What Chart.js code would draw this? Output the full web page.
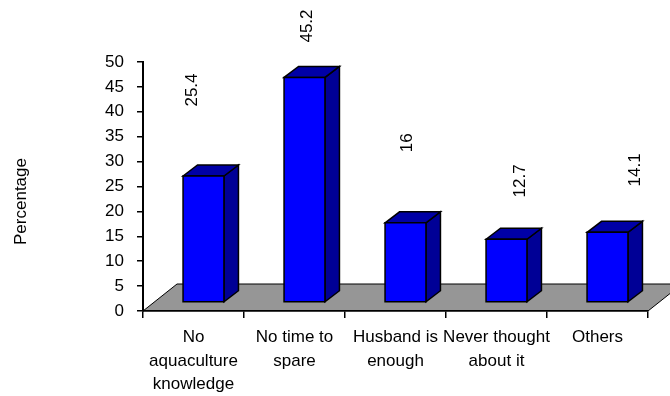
<!DOCTYPE html>
<html>
<head>
<meta charset="utf-8">
<title>Reasons for not taking part in aquaculture</title>
<script src="https://cdn.jsdelivr.net/npm/chart.js@4/dist/chart.umd.min.js"></script>
<style>
  html, body { margin: 0; padding: 0; background: #ffffff; }
  #wrap { width: 670px; height: 396px; }
</style>
</head>
<body>
<div id="wrap"><canvas id="chart" width="670" height="396"></canvas></div>
<script>
// Reasons given and the share of respondents (%) for each
const categories = [
  ['No', 'aquaculture', 'knowledge'],
  ['No time to', 'spare'],
  ['Husband is', 'enough'],
  ['Never thought', 'about it'],
  'Others'
];
const percentages = [25.4, 45.2, 16, 12.7, 14.1];
const axisMin = 0;
const axisMax = 50;
const axisStep = 5;
const axisTitle = 'Percentage';

const FONT = '"Liberation Sans", Arial, Helvetica, sans-serif';

// Draws the grey floor, the boxed 3-D columns and their rotated value labels
const columns3d = {
  id: 'columns3d',
  beforeDraw(chart, args, opts) {
    const { ctx, chartArea: a } = chart;
    const y0 = chart.scales.y.getPixelForValue(0);
    const [dx, dy] = opts.floorDepth;
    ctx.save();
    ctx.beginPath();
    ctx.moveTo(a.left, y0);
    ctx.lineTo(a.right, y0);
    ctx.lineTo(a.right + dx, y0 + dy);
    ctx.lineTo(a.left + dx, y0 + dy);
    ctx.closePath();
    ctx.fillStyle = opts.floorColor;
    ctx.fill();
    ctx.lineWidth = 1;
    ctx.strokeStyle = '#000';
    ctx.stroke();
    ctx.restore();
  },
  afterDatasetsDraw(chart, args, opts) {
    const { ctx } = chart;
    const meta = chart.getDatasetMeta(0);
    const values = chart.data.datasets[0].data;
    const [ox, oy] = opts.frontOffset;
    const [bx, by] = opts.boxDepth;
    ctx.save();
    ctx.lineJoin = 'miter';
    ctx.lineWidth = opts.edgeWidth;
    ctx.strokeStyle = '#000';
    meta.data.forEach((bar, i) => {
      const p = bar.getProps(['x', 'y', 'base', 'width'], true);
      const l = p.x - p.width / 2 + ox;
      const r = l + p.width;
      const t = p.y + oy;
      const b = p.base + oy;

      // side face
      ctx.beginPath();
      ctx.moveTo(r, t);
      ctx.lineTo(r + bx, t + by);
      ctx.lineTo(r + bx, b + by);
      ctx.lineTo(r, b);
      ctx.closePath();
      ctx.fillStyle = opts.sideColor;
      ctx.fill();
      ctx.stroke();

      // top face
      ctx.beginPath();
      ctx.moveTo(l, t);
      ctx.lineTo(l + bx, t + by);
      ctx.lineTo(r + bx, t + by);
      ctx.lineTo(r, t);
      ctx.closePath();
      ctx.fillStyle = opts.topColor;
      ctx.fill();
      ctx.stroke();

      // front face
      ctx.beginPath();
      ctx.rect(l, t, p.width, b - t);
      ctx.fillStyle = opts.frontColor;
      ctx.fill();
      ctx.stroke();

      // value label, written upwards
      const off = opts.labelOffsets[i] || [0, -60];
      ctx.save();
      ctx.translate((l + r) / 2 + off[0], t + off[1]);
      ctx.rotate(-Math.PI / 2);
      ctx.fillStyle = '#000';
      ctx.font = '17px ' + FONT;
      ctx.textAlign = 'center';
      ctx.textBaseline = 'middle';
      ctx.fillText(String(values[i]), 0, 0);
      ctx.restore();
    });
    ctx.restore();
  },
  afterDraw(chart, args, opts) {
    const { ctx, chartArea: a } = chart;
    ctx.save();
    ctx.translate(opts.titleX, (a.top + a.bottom) / 2 + opts.titleShift);
    ctx.rotate(-Math.PI / 2);
    ctx.fillStyle = '#000';
    ctx.font = '17px ' + FONT;
    ctx.textAlign = 'center';
    ctx.textBaseline = 'middle';
    ctx.fillText(axisTitle, 0, 0);
    ctx.restore();
  }
};

new Chart(document.getElementById('chart'), {
  type: 'bar',
  data: {
    labels: categories,
    datasets: [{
      data: percentages,
      backgroundColor: 'rgba(0,0,0,0)',
      borderWidth: 0,
      barPercentage: 0.405,
      categoryPercentage: 1
    }]
  },
  plugins: [columns3d],
  options: {
    responsive: false,
    devicePixelRatio: 1,
    animation: false,
    layout: { padding: { top: 62, right: 22, left: 0, bottom: 0 } },
    plugins: {
      legend: { display: false },
      tooltip: { enabled: false },
      columns3d: {
        floorDepth: [34, -27],
        frontOffset: [10, -8.5],
        boxDepth: [14.5, -11],
        floorColor: '#969696',
        frontColor: '#0000ff',
        sideColor: '#000096',
        topColor: '#0000a6',
        edgeWidth: 1.5,
        labelOffsets: [[-11.5, -86], [2.7, -51.4], [1.6, -80], [13.5, -58.4], [27.4, -62.4]],
        titleX: 21.5,
        titleShift: 15
      }
    },
    scales: {
      x: {
        offset: true,
        grid: { offset: true, drawOnChartArea: false, tickLength: 7, color: '#000', lineWidth: 1.5 },
        border: { color: '#000', width: 1.5 },
        ticks: {
          color: '#000',
          font: { family: FONT, size: 17, lineHeight: 1.38 },
          padding: 8,
          maxRotation: 0,
          autoSkip: false
        },
        afterFit(scale) { scale.height = 85; }
      },
      y: {
        min: axisMin,
        max: axisMax,
        grid: { drawOnChartArea: false, tickLength: 6, color: '#000', lineWidth: 1.5 },
        border: { color: '#000', width: 2 },
        ticks: {
          stepSize: axisStep,
          color: '#000',
          font: { family: FONT, size: 17 },
          padding: 13
        },
        afterFit(scale) { scale.width = 143; }
      }
    }
  }
});
</script>
</body>
</html>
